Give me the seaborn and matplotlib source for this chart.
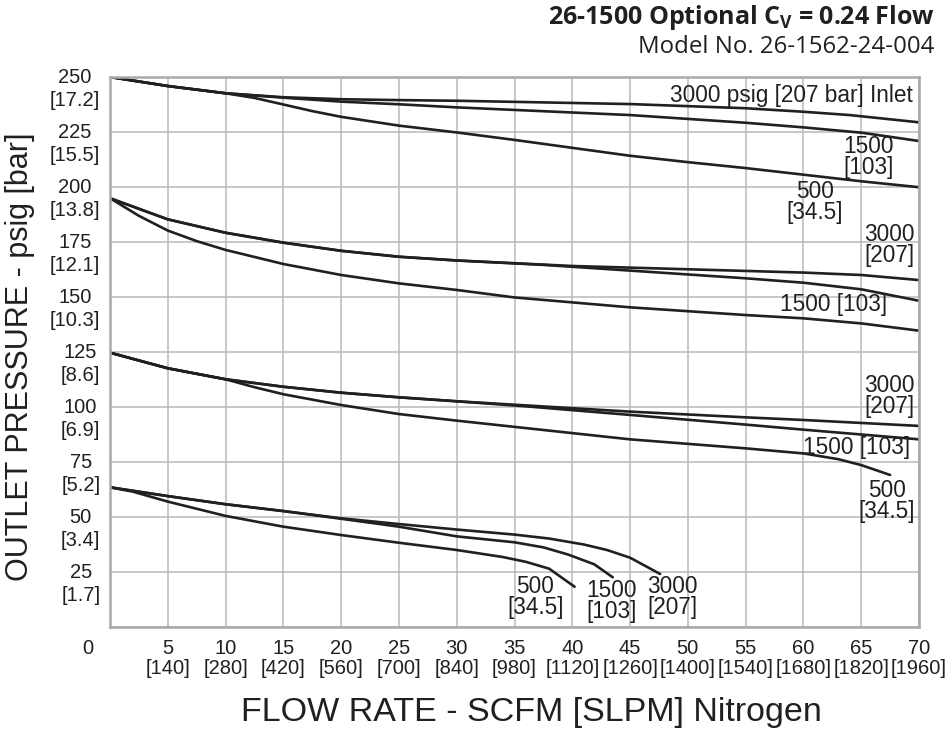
import matplotlib
matplotlib.use("Agg")
import matplotlib.pyplot as plt
import matplotlib.transforms as mtrans
import seaborn as sns
import pandas as pd

# ---------------- data ----------------
# Group 1: set pressure 250 psig
g1_3000_x = [0, 5, 10, 15, 20, 25, 30, 45, 55, 60, 64, 70]
g1_3000_y = [250, 245.9, 242.6, 240.8, 239.9, 239.5, 239.2, 237.7, 235.8, 234.2, 232.7, 229.4]
g1_1500_x = [0, 5, 10, 15, 20, 25, 30, 45, 55, 60, 65, 67, 70]
g1_1500_y = [250, 245.9, 242.6, 240.6, 238.8, 237.6, 236.2, 232.7, 229.2, 227.1, 224.7, 223.2, 220.9]
g1_500_x = [0, 5, 10, 12.5, 15, 17.5, 20, 25, 30, 35, 40, 45, 50, 55, 60, 65, 70]
g1_500_y = [250, 245.9, 242.6, 240.5, 237.5, 234.5, 231.9, 227.9, 224.8, 221.4, 217.8, 214.2,
            211.3, 208.6, 205.6, 202.6, 199.9]

# Group 2: set pressure ~195 psig
g2_3000_x = [0, 5, 10, 15, 20, 25, 30, 40, 50, 60, 65, 70]
g2_3000_y = [194.9, 185.3, 179.2, 174.7, 171.0, 168.3, 166.6, 164.1, 162.6, 161.1, 160.0, 157.7]
g2_1500_x = [0, 5, 10, 15, 20, 25, 30, 37.5, 45, 55, 60, 65, 70]
g2_1500_y = [194.9, 185.3, 179.2, 174.7, 171.0, 168.3, 166.6, 164.6, 162.0, 158.5, 156.5, 153.5, 148.3]
g2_500_x = [0, 2.5, 5, 7.5, 10, 15, 20, 25, 30, 35, 45, 55, 60, 65, 70]
g2_500_y = [194.9, 186.9, 180.2, 175.4, 171.4, 165.0, 160.0, 156.2, 153.2, 149.8, 145.3, 141.8,
            140.3, 138.0, 134.7]

# Group 3: set pressure 125 psig
g3_3000_x = [0, 5, 10, 15, 20, 25, 30, 45, 55, 60, 70]
g3_3000_y = [124.7, 117.6, 112.6, 109.2, 106.5, 104.4, 102.6, 97.9, 95.3, 94.1, 91.4]
g3_1500_x = [0, 5, 10, 15, 20, 25, 30, 36, 45, 55, 60, 70]
g3_1500_y = [124.7, 117.6, 112.6, 109.2, 106.5, 104.4, 102.6, 100.3, 96.4, 92.0, 89.7, 85.3]
g3_500_x = [0, 5, 10, 12.5, 15, 20, 25, 30, 45, 55, 60, 63, 65, 67.5]
g3_500_y = [124.7, 117.6, 112.6, 109.0, 105.8, 100.9, 96.8, 93.8, 85.3, 81.2, 78.9, 76.3, 73.6, 69.1]

# Group 4: set pressure ~63 psig
g4_3000_x = [0, 5, 10, 15, 20, 25, 30, 35, 38, 41, 43, 45, 47.6]
g4_3000_y = [63.5, 59.5, 55.8, 52.7, 49.4, 46.8, 44.3, 42.0, 40.2, 37.5, 35.0, 31.5, 24.1]
g4_1500_x = [0, 5, 10, 15, 20, 25, 30, 35, 37.5, 39.6, 41.9, 43.5]
g4_1500_y = [63.5, 59.5, 55.8, 52.7, 49.2, 45.6, 41.2, 38.5, 36.2, 33.0, 28.5, 22.6]
g4_500_x = [0, 2, 5, 10, 15, 20, 25, 30, 34, 36, 38, 40.2]
g4_500_y = [63.5, 61.5, 57.0, 50.5, 45.6, 41.8, 38.3, 35.0, 31.8, 29.6, 26.5, 18.3]

x_ticks = [0, 5, 10, 15, 20, 25, 30, 35, 40, 45, 50, 55, 60, 65, 70]
x_tick_labels = ["0", "5\n[140]", "10\n[280]", "15\n[420]", "20\n[560]", "25\n[700]",
                 "30\n[840]", "35\n[980]", "40\n[1120]", "45\n[1260]", "50\n[1400]",
                 "55\n[1540]", "60\n[1680]", "65\n[1820]", "70\n[1960]"]
y_ticks = [0, 25, 50, 75, 100, 125, 150, 175, 200, 225, 250]
y_tick_labels = ["", "25\n[1.7]", "50\n[3.4]", "75\n[5.2]", "100\n[6.9]", "125\n[8.6]",
                 "150\n[10.3]", "175\n[12.1]", "200\n[13.8]", "225\n[15.5]", "250\n[17.2]"]

curve_labels = ["3000 psig [207 bar] Inlet", "1500\n[103]", "500\n[34.5]",
                "3000\n[207]", "1500 [103]",
                "3000\n[207]", "1500 [103]", "500\n[34.5]",
                "500\n[34.5]", "1500\n[103]", "3000\n[207]"]
curve_label_x = [69.5, 65.6, 61.0, 67.4, 62.6, 67.4, 64.6, 67.2, 36.8, 43.4, 48.7]
curve_label_y = [241.8, 213.6, 193.2, 173.6, 146.4, 105.0, 81.4, 57.3, 13.6, 11.8, 13.6]
curve_label_ha = ["right", "center", "center", "center", "center", "center", "center",
                  "center", "center", "center", "center"]

title = r"26-1500 Optional C$_\mathbf{V}$ = 0.24 Flow"
subtitle = "Model No. 26-1562-24-004"
x_label = "FLOW RATE - SCFM [SLPM] Nitrogen"
y_label = "OUTLET PRESSURE - psig [bar]"

# ---------------- build table ----------------
series = {
    "g1_3000": (g1_3000_x, g1_3000_y), "g1_1500": (g1_1500_x, g1_1500_y), "g1_500": (g1_500_x, g1_500_y),
    "g2_3000": (g2_3000_x, g2_3000_y), "g2_1500": (g2_1500_x, g2_1500_y), "g2_500": (g2_500_x, g2_500_y),
    "g3_3000": (g3_3000_x, g3_3000_y), "g3_1500": (g3_1500_x, g3_1500_y), "g3_500": (g3_500_x, g3_500_y),
    "g4_3000": (g4_3000_x, g4_3000_y), "g4_1500": (g4_1500_x, g4_1500_y), "g4_500": (g4_500_x, g4_500_y),
}
rows = []
for name, (xs, ys) in series.items():
    for xv, yv in zip(xs, ys):
        rows.append({"curve": name, "flow": xv, "pressure": yv})
df = pd.DataFrame(rows)

# ---------------- style ----------------
sns.set_theme(style="white")
plt.rcParams["font.family"] = ["Liberation Sans", "DejaVu Sans"]
plt.rcParams["mathtext.fontset"] = "custom"
plt.rcParams["mathtext.bf"] = "Open Sans:bold"
plt.rcParams["mathtext.rm"] = "Open Sans"

fig = plt.figure(figsize=(9.49, 7.29), dpi=100)
ax = fig.add_axes([110 / 949, 102 / 729, 809 / 949, 550 / 729])

ink = "#231f20"
sns.lineplot(data=df, x="flow", y="pressure", units="curve", estimator=None,
             sort=False, color=ink, lw=1.9, ax=ax, legend=False)

ax.set_xlim(0, 70)
ax.set_ylim(0, 250)
ax.set_xticks(x_ticks)
ax.set_xticklabels(x_tick_labels, fontsize=14.5, color=ink, linespacing=1.0)
ax.set_yticks(y_ticks)
ax.set_yticklabels(y_tick_labels, fontsize=14.5, color=ink, linespacing=1.25,
                   multialignment="center")
ax.tick_params(axis="both", length=0)
ax.tick_params(axis="x", pad=9)
ax.tick_params(axis="y", pad=7)
ax.grid(True, color="#b9b9bb", lw=1.1)
ax.set_axisbelow(True)
for sp in ax.spines.values():
    sp.set_color("#a9a9ab")
    sp.set_linewidth(1.8)

# shift y tick labels so the number sits on the grid line
for lab in ax.get_yticklabels():
    lab.set_verticalalignment("top")
    lab.set_transform(lab.get_transform() +
                      mtrans.ScaledTranslation(0, 9 / 100, fig.dpi_scale_trans))
# the "0" label sits to the left of the corner
xl = ax.get_xticklabels()
xl[0].set_transform(xl[0].get_transform() +
                    mtrans.ScaledTranslation(-22 / 100, 0, fig.dpi_scale_trans))

ax.set_xlabel(x_label, fontsize=24.5, color=ink)
ax.xaxis.set_label_coords((531 - 110) / 809, (627 - 697) / 550)
ax.set_ylabel(y_label, fontsize=22, color=ink)
ax.yaxis.set_label_coords(-(110 - 35) / 809, (627 - 357) / 550)

for t, xv, yv, ha in zip(curve_labels, curve_label_x, curve_label_y, curve_label_ha):
    ax.text(xv, yv, t, fontsize=16.3, color=ink, ha=ha, va="center",
            multialignment="center", linespacing=0.89)

fig.text(935 / 949, 1 - 18 / 729, title, ha="right", va="center", fontsize=18,
         fontweight="bold", family="Open Sans", color=ink)
fig.text(934 / 949, 1 - 47 / 729, subtitle, ha="right", va="center", fontsize=17.3,
         family="Open Sans", color=ink)

fig.savefig("out.png", dpi=100)
